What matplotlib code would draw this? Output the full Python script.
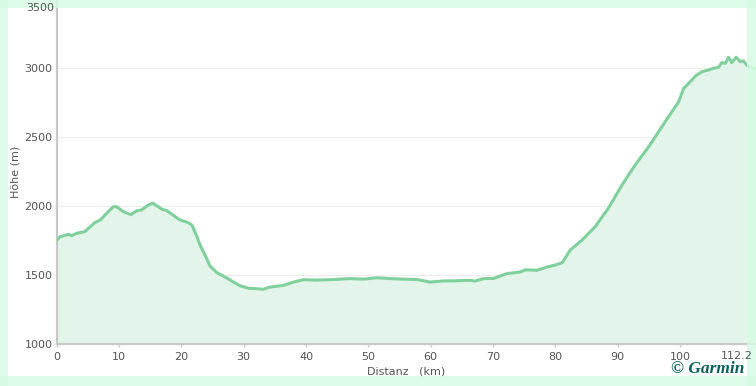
import matplotlib
matplotlib.use("Agg")
import matplotlib.pyplot as plt
from matplotlib.patches import Rectangle

# Data (km, elevation m)
distance_km = [0, 0.5, 1.9, 2.4, 3.2, 4.5, 4.8, 6.1, 7.0, 8.0, 9.1, 9.6, 10.7, 11.9,
               12.8, 13.6, 14.7, 15.4, 16.1, 16.9, 17.7, 18.7, 19.8, 21.1, 21.7, 22.5,
               23.0, 23.8, 24.6, 25.7, 26.7, 28.3, 29.4, 30.8, 33.2, 34.2, 36.4, 38.0,
               39.6, 41.7, 44.4, 47.1, 49.2, 51.4, 53.5, 55.6, 57.8, 59.9, 62.1, 64.2,
               66.3, 67.1, 68.5, 70.1, 72.2, 74.4, 75.2, 77.0, 78.7, 80.0, 81.1, 82.4,
               84.3, 86.4, 88.5, 90.7, 92.8, 95.0, 97.1, 98.7, 99.8, 100.6, 101.4,
               102.5, 103.5, 104.6, 105.4, 106.2, 106.7, 107.3, 107.8, 108.3, 109.0,
               109.7, 110.2, 110.8, 112.2]
elevation_m = [1750, 1777, 1795, 1785, 1802, 1814, 1826, 1879, 1899, 1947, 1995, 1995,
               1959, 1937, 1964, 1971, 2007, 2020, 2000, 1976, 1966, 1932, 1899, 1879,
               1862, 1778, 1717, 1645, 1565, 1517, 1493, 1451, 1422, 1404, 1397, 1412,
               1425, 1449, 1466, 1463, 1467, 1474, 1470, 1480, 1474, 1470, 1467, 1449,
               1457, 1458, 1462, 1456, 1474, 1475, 1510, 1522, 1538, 1534, 1558, 1572,
               1589, 1681, 1754, 1850, 1983, 2152, 2297, 2430, 2575, 2683, 2756, 2853,
               2889, 2942, 2973, 2986, 2998, 3005, 3039, 3034, 3078, 3039, 3078, 3046,
               3051, 3017, 2993]

x_ticks = [0, 10, 20, 30, 40, 50, 60, 70, 80, 90, 100, 112.2]
x_tick_labels = ["0", "10", "20", "30", "40", "50", "60", "70", "80", "90", "100", "112.2"]
y_ticks = [1000, 1500, 2000, 2500, 3000]
y_tick_labels = ["1000", "1500", "2000", "2500", "3000"]

W, H = 756, 386
fig = plt.figure(figsize=(W / 100, H / 100), dpi=100, facecolor="white")
left_px, right_px, bottom_px, top_px = 56.7, 756, 344, 0
ax = fig.add_axes([left_px / W, (H - bottom_px) / H, (right_px - left_px) / W,
                   (bottom_px - top_px) / H])
ax.set_xlim(0, 112.2)
ax.set_ylim(1000, 1000 + (bottom_px - top_px) / 0.138)

line_color = "#80d09e"
fill_color = "#e3f5ea"
ax.fill_between(distance_km, elevation_m, 1000, color=fill_color, lw=0, zorder=1)
ax.plot(distance_km, elevation_m, color=line_color, lw=2.2, solid_joinstyle="round",
        solid_capstyle="round", zorder=3)

ax.set_xticks(x_ticks)
# last tick label is drawn separately so it stays inside the figure
ax.set_xticklabels(x_tick_labels[:-1] + [""])
ax.set_yticks(y_ticks)
ax.set_yticklabels(y_tick_labels)
ax.grid(axis="y", color="#ececec", lw=0.8, zorder=0)
ax.set_axisbelow(True)
for s in ["top", "right"]:
    ax.spines[s].set_visible(False)
for s in ["left", "bottom"]:
    ax.spines[s].set_color("#c8c8c8")
    ax.spines[s].set_linewidth(1.6)
ax.tick_params(axis="x", colors="#c8c8c8", labelcolor="#555555", labelsize=8,
               length=4, width=1, direction="inout", pad=4)
ax.tick_params(axis="y", length=0, labelcolor="#555555", labelsize=8, pad=3)

ax.set_xlabel("Distanz   (km)", fontsize=8, color="#555555", labelpad=3)
ax.set_ylabel("Höhe (m)", fontsize=8, color="#555555", labelpad=3)

# Green frame overlay
band = "#d6fbe4"
for (x0, y0, w, h) in [(0, 0, 8, H), (0, 0, W, 8), (0, 376, W, 10), (747, 0, 9, H)]:
    fig.patches.append(Rectangle((x0 / W, 1 - (y0 + h) / H), w / W, h / H,
                                 transform=fig.transFigure, color=band, alpha=0.85,
                                 lw=0, zorder=5))

fig.text(753 / W, 1 - 356 / H, x_tick_labels[-1], ha="right", va="center", fontsize=8,
         color="#555555", zorder=6)
fig.text(54 / W, 1 - 8 / H, "3500", ha="right", va="center", fontsize=8,
         color="#555555", zorder=6)
fig.text(744 / W, 1 - 369 / H, "© Garmin", ha="right", va="center", fontsize=12.5,
         family="Liberation Serif", weight="bold", style="italic", color="#0f5e5e", zorder=6)

fig.savefig("out.png", dpi=100, facecolor="white")
